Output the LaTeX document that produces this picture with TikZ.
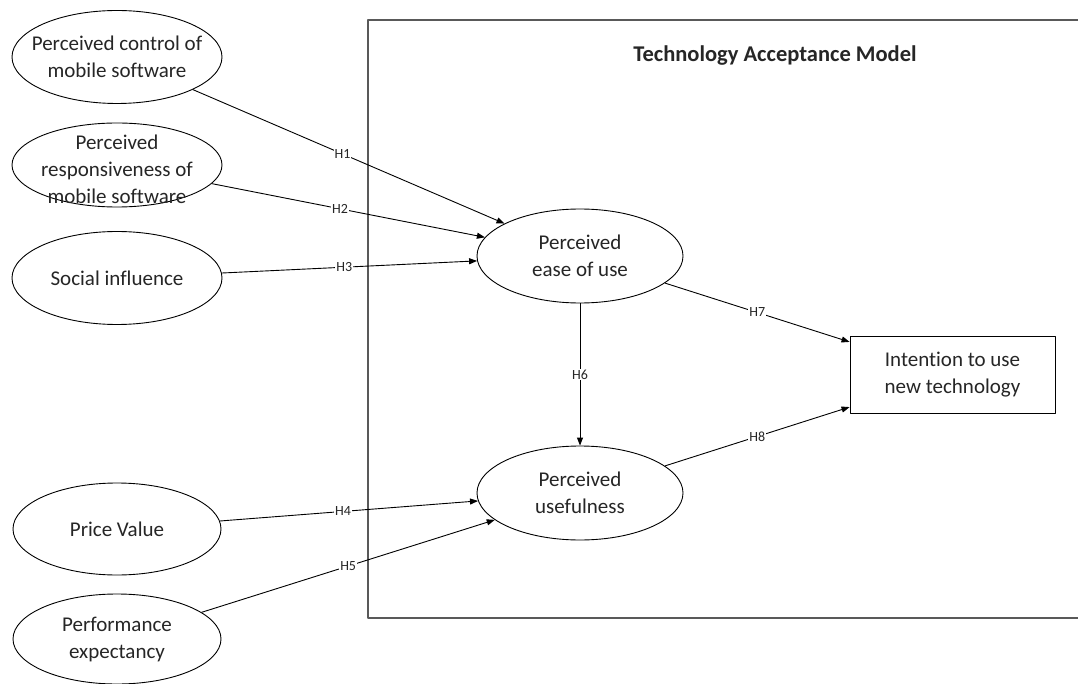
\documentclass[tikz,border=0pt]{standalone}
\usepackage{fontspec}
\setmainfont{Carlito}[Ligatures=NoCommon]
\usetikzlibrary{shapes.geometric,arrows.meta}
\begin{document}
\begin{tikzpicture}[x=1pt,y=-1pt, line join=round,
  every node/.style={font=\fontsize{21}{27}\selectfont, text=black!85},
  ell/.style 2 args={draw=black, ellipse, line width=0.9pt, inner sep=0pt, minimum width=#1, minimum height=#2},
  boxnode/.style={draw=black, rectangle, line width=0.9pt, minimum width=205pt, minimum height=77pt, align=center},
  arr/.style={-{Triangle[length=8pt,width=6pt]}, line width=0.9pt},
  hlab/.style={font=\fontsize{14}{16}\selectfont, fill=white, inner sep=1pt},
  frame/.style={draw=black!65, line width=1.5pt},
  lbl/.style={align=center}]
\useasboundingbox (0,0) rectangle (1078,684);
\fill[white] (0,0) rectangle (1078,684);
\draw[frame] (1080,20) -- (368,20) -- (368,618) -- (1080,618);
\node[font=\bfseries\fontsize{22.5}{26}\selectfont] (title) at (775,56) {Technology Acceptance Model};

\node[ell={210pt}{93pt}, label={[lbl]center:{Perceived control of\\mobile software}}] (pc) at (117,57) {};
\node[ell={210pt}{84pt}, label={[lbl, yshift=-4pt]center:{Perceived\\responsiveness of\\mobile software}}] (pr) at (117,165) {};
\node[ell={210pt}{93pt}, label={[lbl]center:{Social influence}}] (si) at (117,278) {};
\node[ell={208pt}{92pt}, label={[lbl]center:{Price Value}}] (pv) at (117,529) {};
\node[ell={208pt}{90pt}, label={[lbl]center:{Performance\\expectancy}}] (pe) at (117,639) {};
\node[ell={206pt}{94pt}, label={[lbl]center:{Perceived\\ease of use}}] (peou) at (580,256) {};
\node[ell={206pt}{94pt}, label={[lbl]center:{Perceived\\usefulness}}] (pu) at (580,493) {};
\node[boxnode] (int) at (952.5,374.5) {Intention to use\\new technology};

\draw[arr] (pc) -- node[hlab, pos=0.48] {H1} (peou);
\draw[arr] (pr) -- node[hlab, pos=0.47] {H2} (peou);
\draw[arr] (si) -- node[hlab, pos=0.48] {H3} (peou);
\draw[arr] (pv) -- node[hlab, pos=0.477] {H4} (pu);
\draw[arr] (pe) -- node[hlab, pos=0.5] {H5} (pu);
\draw[arr] (peou) -- node[hlab, pos=0.5] {H6} (pu);
\draw[arr] (peou) -- node[hlab, pos=0.5] {H7} (int);
\draw[arr] (pu) -- node[hlab, pos=0.5] {H8} (int);
\end{tikzpicture}
\end{document}
